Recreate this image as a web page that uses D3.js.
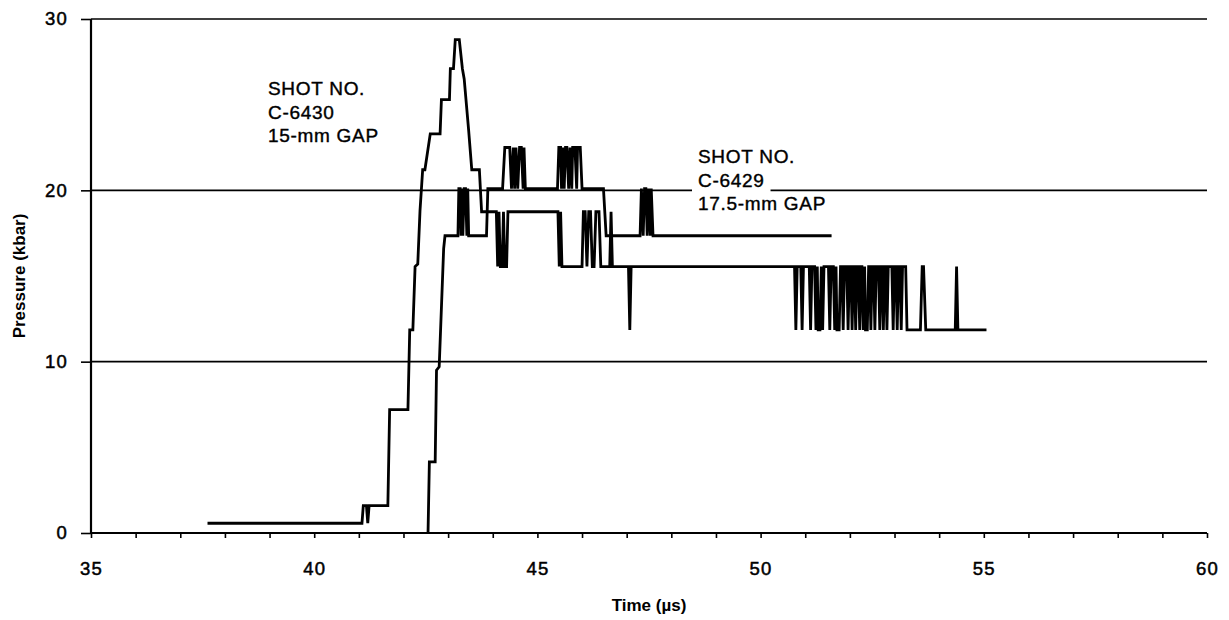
<!DOCTYPE html>
<html>
<head>
<meta charset="utf-8">
<script src="https://cdn.jsdelivr.net/npm/d3@7"></script>
<style>
  body { margin: 0; background: #fff; }
  svg { display: block; }
</style>
</head>
<body>
<div id="chart"></div>
<script>
// pressure traces: [time (µs), pressure (kbar)]
var shot6430 = [
  [37.61, 0.57], [41.07, 0.57], [41.10, 1.6], [41.17, 1.6], [41.20, 0.57], [41.23, 1.6],
  [41.65, 1.6], [41.69, 7.2], [42.10, 7.2], [42.14, 11.85], [42.21, 11.85], [42.26, 15.55],
  [42.32, 15.7], [42.37, 18.8], [42.43, 21.2], [42.48, 21.2], [42.60, 23.3], [42.82, 23.3],
  [42.85, 25.3], [43.03, 25.3], [43.05, 27.1], [43.12, 27.1], [43.16, 28.8], [43.25, 28.8],
  [43.32, 27.1], [43.36, 26.5], [43.46, 23.5], [43.53, 21.2], [43.70, 21.2], [43.75, 18.75],
  [44.08, 18.75], [44.11, 15.55], [44.14, 18.75], [44.17, 15.55], [44.21, 15.55], [44.24, 18.75],
  [44.27, 15.55], [44.31, 15.55], [44.34, 18.75], [45.46, 18.75], [45.49, 15.55], [45.52, 18.75],
  [45.55, 15.55], [46.00, 15.55], [46.03, 18.75], [46.07, 18.75], [46.11, 15.55], [46.15, 18.75],
  [46.19, 18.75], [46.23, 15.55], [46.27, 15.55], [46.31, 18.75], [46.38, 18.75], [46.42, 15.55],
  [46.62, 15.55], [46.65, 18.75], [46.68, 15.55], [47.04, 15.55], [47.07, 11.85], [47.10, 15.55],
  [50.76, 15.55], [50.79, 11.85], [50.82, 15.55], [50.90, 15.55], [50.93, 11.85], [50.96, 15.55],
  [51.09, 15.55], [51.12, 11.85], [51.15, 15.55], [51.21, 15.55], [51.24, 11.85], [51.27, 15.55],
  [51.29, 11.85], [51.33, 11.85], [51.36, 15.55], [51.39, 11.85], [51.42, 15.55], [51.52, 15.55],
  [51.55, 11.85], [51.58, 15.55], [51.63, 15.55], [51.66, 11.85], [51.69, 15.55], [51.71, 11.85],
  [51.76, 11.85], [51.79, 15.55], [51.82, 15.55], [51.85, 11.85], [51.88, 15.55], [51.93, 15.55],
  [51.96, 11.85], [51.99, 15.55], [52.02, 15.55], [52.05, 11.85], [52.08, 15.55], [52.10, 15.55],
  [52.13, 11.85], [52.16, 15.55], [52.19, 15.55], [52.22, 11.85], [52.25, 15.55], [52.27, 15.55],
  [52.30, 11.85], [52.33, 15.55], [52.35, 11.85], [52.39, 11.85], [52.42, 15.55], [52.44, 15.55],
  [52.47, 11.85], [52.50, 15.55], [52.53, 15.55], [52.56, 11.85], [52.59, 15.55], [52.64, 15.55],
  [52.67, 11.85], [52.70, 15.55], [52.72, 15.55], [52.75, 11.85], [52.78, 15.55], [52.80, 15.55],
  [52.83, 11.85], [52.86, 15.55], [52.94, 15.55], [52.97, 11.85], [53.00, 15.55], [53.03, 15.55],
  [53.06, 11.85], [53.09, 15.55], [53.12, 15.55], [53.15, 11.85], [53.18, 15.55], [53.25, 15.55],
  [53.28, 11.85], [53.58, 11.85], [53.62, 15.55], [53.65, 15.55], [53.70, 11.85], [54.36, 11.85],
  [54.39, 15.55], [54.42, 11.85], [55.06, 11.85]
];

var shot6429 = [
  [42.55, 0], [42.58, 4.15], [42.71, 4.15], [42.74, 9.5], [42.80, 9.7], [42.90, 16.6],
  [42.93, 17.35], [43.22, 17.35], [43.24, 20.1], [43.27, 20.1], [43.29, 17.35], [43.31, 20.1],
  [43.33, 17.35], [43.36, 20.1], [43.39, 20.1], [43.42, 17.35], [43.44, 20.1], [43.46, 17.35],
  [43.86, 17.35], [43.89, 20.1], [44.22, 20.1], [44.27, 22.5], [44.38, 22.5], [44.42, 20.1],
  [44.46, 22.5], [44.49, 20.1], [44.52, 22.5], [44.56, 20.1], [44.60, 22.5], [44.64, 22.5],
  [44.68, 20.1], [44.70, 22.5], [44.73, 20.1], [45.45, 20.1], [45.48, 22.5], [45.52, 22.5],
  [45.54, 20.1], [45.57, 22.5], [45.60, 20.1], [45.63, 22.5], [45.66, 22.5], [45.70, 20.1],
  [45.73, 22.5], [45.77, 20.1], [45.79, 22.5], [45.84, 22.5], [45.88, 20.1], [45.90, 22.5],
  [45.96, 22.5], [46.00, 20.1], [46.48, 20.1], [46.54, 17.35], [47.30, 17.35], [47.33, 20.1],
  [47.37, 17.35], [47.40, 20.1], [47.43, 20.1], [47.46, 17.35], [47.49, 20.1], [47.53, 17.35],
  [47.55, 20.1], [47.59, 17.35], [51.59, 17.35]
];

var xTicks = [35, 40, 45, 50, 55, 60];
var yTicks = [0, 10, 20, 30];
var label6430 = ["SHOT NO.", "C-6430", "15-mm GAP"];
var label6429 = ["SHOT NO.", "C-6429", "17.5-mm GAP"];

var W = 1229, H = 620;
var margin = {left: 91, right: 22, top: 19, bottom: 87};
var width = W - margin.left - margin.right;
var height = H - margin.top - margin.bottom;
var font = "'Liberation Sans', Arial, sans-serif";

var svg = d3.select("#chart").append("svg")
  .attr("width", W)
  .attr("height", H);
var g = svg.append("g")
  .attr("transform", "translate(" + margin.left + "," + margin.top + ")");

var x = d3.scaleLinear().domain([35, 60]).range([0, width]);
var y = d3.scaleLinear().domain([0, 30]).range([height, 0]);

// gridlines
g.selectAll(".grid").data(yTicks.filter(function(d) { return d > 0; }))
  .enter().append("line")
  .attr("class", "grid")
  .attr("x1", 0).attr("x2", width)
  .attr("y1", function(d) { return y(d); })
  .attr("y2", function(d) { return y(d); })
  .attr("stroke", "#000")
  .attr("stroke-width", 1.6);

// x axis, minor tick every µs
var xAxis = d3.axisBottom(x)
  .tickValues(d3.range(35, 61, 1))
  .tickSize(5)
  .tickPadding(24)
  .tickFormat(function(d) { return xTicks.indexOf(d) >= 0 ? d : ""; });
var gx = g.append("g")
  .attr("transform", "translate(0," + height + ")")
  .call(xAxis);

var yAxis = d3.axisLeft(y)
  .tickValues(yTicks)
  .tickSize(10)
  .tickPadding(13);
var gy = g.append("g").call(yAxis);

[gx, gy].forEach(function(ax) {
  ax.select(".domain").attr("stroke", "#000").attr("stroke-width", 2.2);
  ax.selectAll(".tick line").attr("stroke", "#000").attr("stroke-width", 1.6);
  ax.selectAll(".tick text")
    .attr("fill", "#000")
    .attr("stroke", "#000")
    .attr("stroke-width", 0.5)
    .style("font-family", font)
    .style("font-size", "18.5px")
    .style("letter-spacing", "1.2px");
});
gx.select(".domain").attr("d", "M0,0H" + width);
gy.select(".domain").attr("d", "M0," + height + "V0");

// axis titles
svg.append("text")
  .attr("x", margin.left + width / 2)
  .attr("y", 611)
  .attr("text-anchor", "middle")
  .style("font-family", font)
  .style("font-weight", "bold")
  .style("font-size", "17px")
  .text("Time (µs)");

svg.append("text")
  .attr("transform", "translate(25," + (margin.top + height / 2) + ") rotate(-90)")
  .attr("text-anchor", "middle")
  .style("font-family", font)
  .style("font-weight", "bold")
  .style("font-size", "17px")
  .text("Pressure (kbar)");

// traces
var line = d3.line()
  .x(function(d) { return x(d[0]); })
  .y(function(d) { return y(d[1]); });

[shot6430, shot6429].forEach(function(s) {
  g.append("path")
    .datum(s)
    .attr("d", line)
    .attr("fill", "none")
    .attr("stroke", "#000")
    .attr("stroke-width", 2.8)
    .attr("stroke-linejoin", "miter")
    .attr("stroke-miterlimit", 2);
});

// annotations
function addLabel(lines, tx, baseline, knockout) {
  var t = svg.append("g");
  lines.forEach(function(s, i) {
    var txt = t.append("text")
      .attr("x", tx)
      .attr("y", baseline + i * 23.5)
      .attr("stroke", "#000")
      .attr("stroke-width", 0.4)
      .style("font-family", font)
      .style("font-size", "19px")
      .style("letter-spacing", "0.7px")
      .text(s);
    if (knockout && i === 1) {
      var bb = txt.node().getBBox();
      t.insert("rect", "text")
        .attr("x", bb.x - 6).attr("y", bb.y)
        .attr("width", bb.width + 12).attr("height", bb.height + 4)
        .attr("fill", "#fff");
    }
  });
}
addLabel(label6430, 268, 95, false);
addLabel(label6429, 698, 163, true);
</script>
</body>
</html>
